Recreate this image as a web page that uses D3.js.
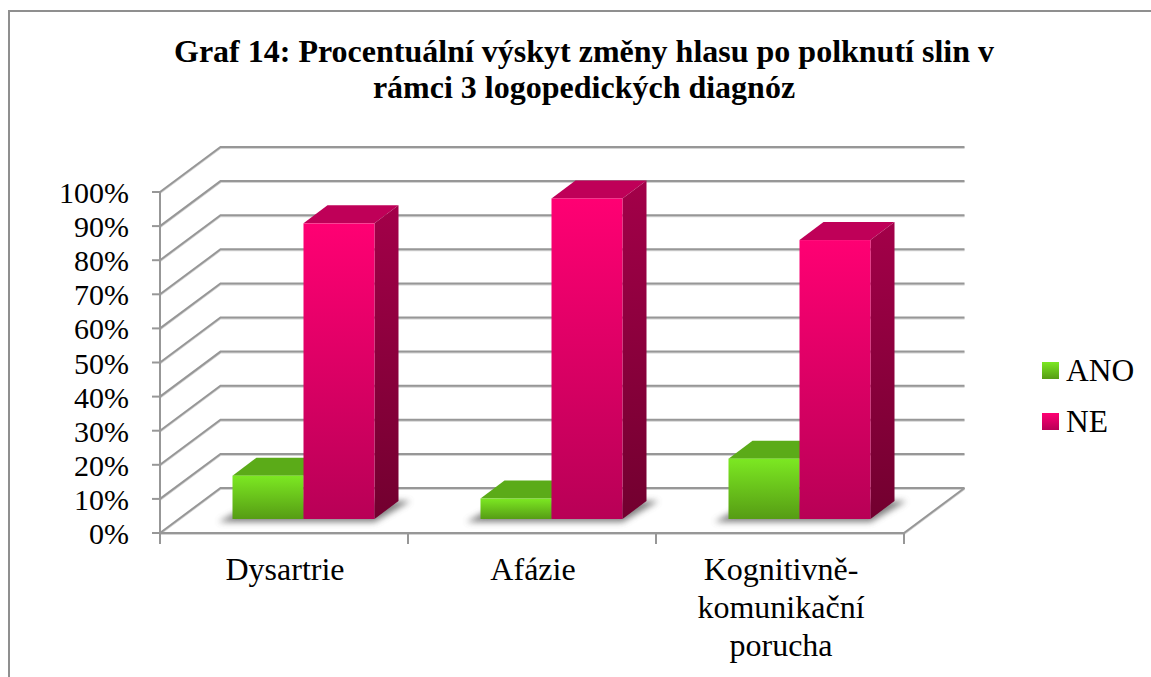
<!DOCTYPE html>
<html><head><meta charset="utf-8">
<script src="https://cdn.jsdelivr.net/npm/d3@7"></script>
<style>html,body{margin:0;padding:0;background:#fff;overflow:hidden}svg{display:block}text{font-family:"Liberation Serif",serif;fill:#000}</style>
</head><body><svg id="c" width="1151" height="677"></svg>
<script>
const categories=["Dysartrie","Afázie","Kognitivně-komunikační porucha"];
const categoryLines=[["Dysartrie"],["Afázie"],["Kognitivně-","komunikační","porucha"]];
const seriesNames=["ANO","NE"];
const ano=[12.7,6,17.7];
const ne=[86.7,94,81.8];
const ticks=[0,10,20,30,40,50,60,70,80,90,100];
const titleLines=["Graf 14: Procentuální výskyt změny hlasu po polknutí slin v","rámci 3 logopedických diagnóz"];

const svg=d3.select("#c");
const defs=svg.append("defs");
const x=d3.scaleBand().domain(categories).range([160,904]);
const y=d3.scaleLinear().domain([0,100]).range([533,192]);
const wall={dx:60.5,dy:-45};
const bar={inset:72.5,w:71,dx:24,dy:-18,lift:14};
const grey="#979797";

function grad(id,c1,c2){const g=defs.append("linearGradient").attr("id",id).attr("x1",0).attr("y1",0).attr("x2",0).attr("y2",1);
 g.append("stop").attr("offset",0).attr("stop-color",c1);g.append("stop").attr("offset",1).attr("stop-color",c2);}
grad("gF","#7ce822","#569c14");grad("gS","#5fb018","#3f7a0e");
grad("pF","#ff0073","#b80056");grad("pS","#a30049","#72002f");
defs.append("filter").attr("id","blur").attr("x","-30%").attr("y","-50%").attr("width","160%").attr("height","200%").append("feGaussianBlur").attr("stdDeviation",3);

svg.append("rect").attr("x",9).attr("y",11).attr("width",1150).attr("height",680).attr("fill","#fff").attr("stroke","#8f8f8f").attr("stroke-width",2);

// title
svg.append("g").selectAll("text").data(titleLines).join("text")
 .attr("x",584).attr("y",(d,i)=>62+i*36).attr("text-anchor","middle").attr("font-size",32).attr("font-weight","bold").text(d=>d);

// walls and grid
const gx0=x.range()[0],gx1=x.range()[1];
const halo=svg.append("g").attr("fill","none").attr("stroke","#d4d4d4").attr("stroke-width",2).attr("transform","translate(0,1)");
const grid=svg.append("g").attr("fill","none").attr("stroke",grey).attr("stroke-width",2);
const gridPath=d=>{halo.append("path").attr("d",d);grid.append("path").attr("d",d);};
ticks.forEach(t=>{
 const yy=y(t);
 gridPath(`M${gx0},${yy}L${gx0+wall.dx},${yy+wall.dy}L${gx1+wall.dx},${yy+wall.dy}`);
 grid.append("line").attr("x1",gx0-8).attr("x2",gx0).attr("y1",yy).attr("y2",yy);
});
grid.append("line").attr("x1",gx0).attr("x2",gx0).attr("y1",y(100)).attr("y2",y(0)+10);
gridPath(`M${gx0},${y(0)}L${gx1},${y(0)}L${gx1+wall.dx},${y(0)+wall.dy}`);
x.domain().concat("end").forEach((c,i)=>{
 const xx=gx0+i*x.bandwidth();
 grid.append("line").attr("x1",xx).attr("x2",xx).attr("y1",y(0)).attr("y2",y(0)+11);
});

// y labels
svg.append("g").selectAll("text").data(ticks).join("text")
 .attr("x",129).attr("y",d=>y(d)+11).attr("text-anchor","end").attr("font-size",30).text(d=>d+"%");

// bars
const baseY=y(0)-bar.lift;
categories.forEach((c,i)=>{
 const x0=x(c)+bar.inset, xm=x0+bar.w, x1=xm+bar.w;
 svg.append("path").attr("fill","#555").attr("opacity",.75).attr("filter","url(#blur)")
  .attr("d",`M${x0-14},${baseY+3}L${x1},${baseY+3}L${x1+36},${baseY-18}L${x0+24},${baseY-18}Z`);
});
function drawBar(c,v,sx,ids){
 const top=y(v)-bar.lift;
 const h=baseY-top;
 const g=svg.append("g");
 g.append("path").attr("fill",ids.top).attr("d",`M${sx},${top}L${sx+bar.dx},${top+bar.dy}L${sx+bar.w+bar.dx},${top+bar.dy}L${sx+bar.w},${top}Z`);
 g.append("path").attr("fill",`url(#${ids.side})`).attr("d",`M${sx+bar.w},${top}L${sx+bar.w+bar.dx},${top+bar.dy}L${sx+bar.w+bar.dx},${baseY+bar.dy}L${sx+bar.w},${baseY}Z`);
 g.append("rect").attr("x",sx).attr("y",top).attr("width",bar.w).attr("height",h).attr("fill",`url(#${ids.front})`);
}
categories.forEach((c,i)=>{
 const x0=x(c)+bar.inset;
 drawBar(c,ano[i],x0,{top:"#5bab18",side:"gS",front:"gF"});
 drawBar(c,ne[i],x0+bar.w,{top:"#bf0058",side:"pS",front:"pF"});
});

// category labels
categories.forEach((c,i)=>{
 const cx=x(c)+x.bandwidth()/2+1;
 svg.append("g").selectAll("text").data(categoryLines[i]).join("text")
  .attr("x",cx).attr("y",(d,k)=>580+k*38).attr("text-anchor","middle").attr("font-size",32).text(d=>d);
});

// legend
seriesNames.forEach((s,i)=>{
 const ly=362+i*51;
 svg.append("rect").attr("x",1042).attr("y",ly).attr("width",17).attr("height",17).attr("fill",i?"url(#pF)":"url(#gF)");
 svg.append("text").attr("x",1066).attr("y",ly+19).attr("font-size",31.5).text(s);
});
</script></body></html>
